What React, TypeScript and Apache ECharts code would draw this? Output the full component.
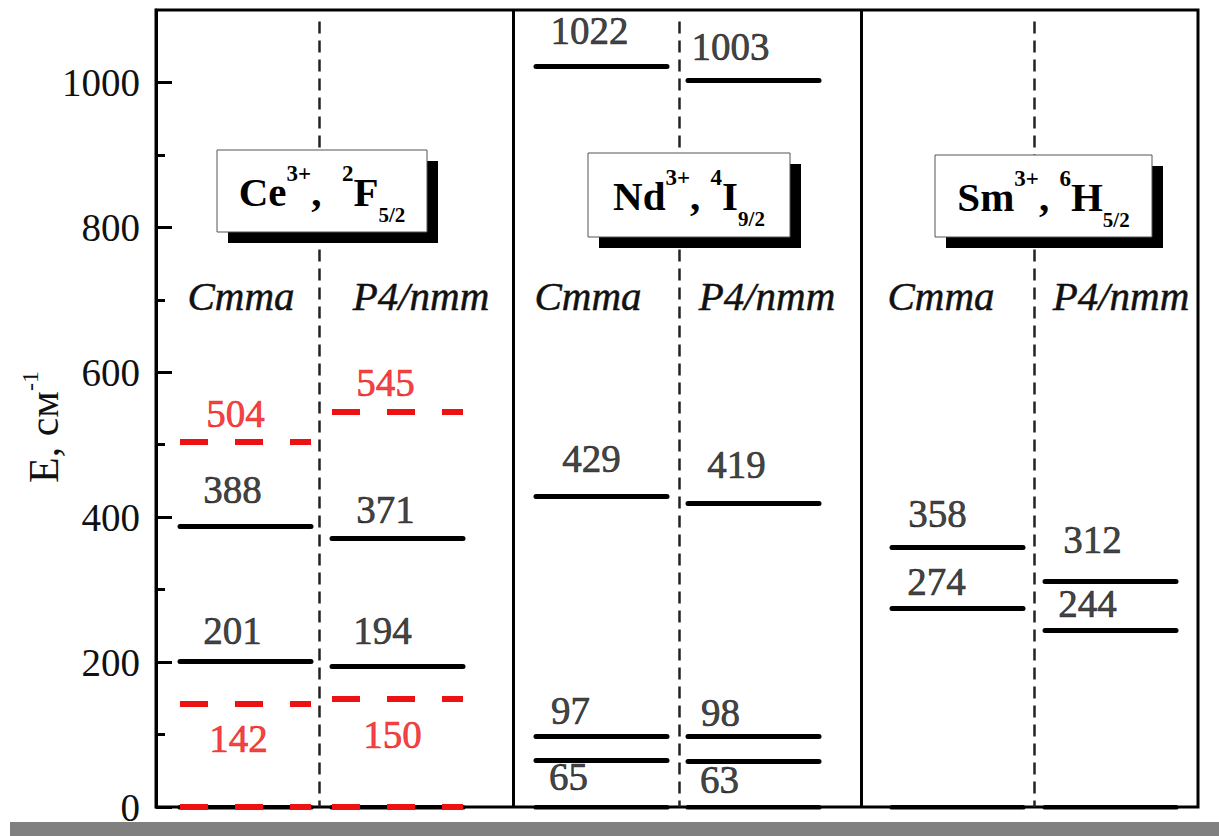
import React, { useEffect, useRef } from 'react';
import * as echarts from 'echarts';

const SERIF = 'Liberation Serif, Times New Roman, serif';

// Crystal-field splitting of the ground multiplets, cm^-1
const ceCmma = [0, 201, 388];
const ceCmmaRed = [0, 142, 504];
const ceP4 = [0, 194, 371];
const ceP4Red = [0, 150, 545];
const ndCmma = [0, 65, 97, 429, 1022];
const ndP4 = [0, 63, 98, 419, 1003];
const smCmma = [0, 274, 358];
const smP4 = [0, 244, 312];

const yTicks = [0, 200, 400, 600, 800, 1000];
const yMinorTicks = [100, 300, 500, 700, 900];
const groupNames = ['Cmma', 'P4/nmm'];

// Horizontal layout, in x-axis units (pixels from the energy axis)
const X_MAX = 1042;
const COL_START = [24, 176, 380, 532, 736, 889];
const COL_LEN = 131;
const PANEL_DIVIDERS = [357, 705];
const GROUP_DIVIDERS = [163, 523, 878];

// Label placement for each level: [x centre, vertical pixel shift]
type Place = [number, number] | null;
const ceCmmaPlace: Place[] = [null, [77, -30], [77, -36]];
const ceCmmaRedPlace: Place[] = [null, [83, 35], [80, -28]];
const ceP4Place: Place[] = [null, [227, -35], [230, -28]];
const ceP4RedPlace: Place[] = [null, [237, 37], [230, -29]];
const ndCmmaPlace: Place[] = [null, [413, 17], [415, -26], [436, -37], [434, -36]];
const ndP4Place: Place[] = [null, [564, 19], [565, -23], [581, -38], [575, -33]];
const smCmmaPlace: Place[] = [null, [781, -26], [782, -34]];
const smP4Place: Place[] = [null, [932, -26], [937, -41]];

const blackSets = [
  { levels: ceCmma, col: 0, place: ceCmmaPlace },
  { levels: ceP4, col: 1, place: ceP4Place },
  { levels: ndCmma, col: 2, place: ndCmmaPlace },
  { levels: ndP4, col: 3, place: ndP4Place },
  { levels: smCmma, col: 4, place: smCmmaPlace },
  { levels: smP4, col: 5, place: smP4Place },
];
const redSets = [
  { levels: ceCmmaRed, col: 0, place: ceCmmaRedPlace },
  { levels: ceP4Red, col: 1, place: ceP4RedPlace },
];

const RED = '#ee1111';
const INK = '#111';

function segs(sets: typeof blackSets) {
  const out: any[] = [];
  sets.forEach((s) =>
    s.levels.forEach((v) => {
      const x0 = COL_START[s.col];
      out.push({ coords: [[x0, v], [x0 + COL_LEN, v]] });
    })
  );
  return out;
}

function labels(sets: typeof blackSets) {
  const out: any[] = [];
  sets.forEach((s) =>
    s.levels.forEach((v, i) => {
      const p = s.place[i];
      if (!p) return;
      out.push({ value: [p[0], v], label: { offset: [0, p[1]] } });
    })
  );
  return out;
}

const boxRich = {
  m: { fontFamily: SERIF, fontWeight: 'bold', fontSize: 41, fill: '#000' },
  p: { fontFamily: SERIF, fontWeight: 'bold', fontSize: 23, fill: '#000', padding: [0, 0, 38, 0] },
  b: { fontFamily: SERIF, fontWeight: 'bold', fontSize: 21, fill: '#000', padding: [46, 0, 0, 0] },
};

function ionBox(x: number, y: number, w: number, h: number, text: string) {
  return [
    { type: 'rect', z: 100, shape: { x: x + 11, y: y + 11, width: w, height: h }, style: { fill: '#000' } },
    { type: 'rect', z: 101, shape: { x, y, width: w, height: h }, style: { fill: '#fff', stroke: '#555', lineWidth: 1 } },
    {
      type: 'text', z: 102, x: x + w / 2, y: y + h / 2 + 1,
      style: { text, rich: boxRich, align: 'center', verticalAlign: 'middle' },
    },
  ];
}

const groupLabelX = [241, 421, 588, 767, 941, 1121];

export default function App() {
  const ref = useRef<HTMLDivElement>(null);
  useEffect(() => {
    if (!ref.current) return;
    const chart = echarts.init(ref.current, null, { renderer: 'svg' });
    const numLabel = (color: string) => ({
      show: true,
      position: [0, 0],
      align: 'center',
      verticalAlign: 'middle',
      color,
      fontFamily: SERIF,
      fontSize: 39,
      textBorderColor: color,
      textBorderWidth: 0.7,
      formatter: (p: any) => String(p.value[1]),
    });
    const option: any = {
      animation: false,
      textStyle: { fontFamily: SERIF },
      grid: { left: 156, right: 21, top: 10, bottom: 29, show: true, borderColor: '#000', borderWidth: 3 },
      xAxis: { type: 'value', min: 0, max: X_MAX, show: false },
      yAxis: [
        {
          type: 'value', min: 0, max: 1100, position: 'left',
          axisLine: { show: true, lineStyle: { color: '#000', width: 3 } },
          axisTick: { show: true, inside: true, length: 16, lineStyle: { color: '#000', width: 3 }, customValues: yTicks },
          axisLabel: {
            customValues: yTicks, fontFamily: SERIF, fontSize: 39, color: '#111', margin: 16,
            formatter: (v: number) => String(v),
          },
          splitLine: { show: false },
        },
        {
          type: 'value', min: 0, max: 1100, position: 'left',
          axisLine: { show: false },
          axisTick: { show: true, inside: true, length: 9, lineStyle: { color: '#000', width: 3 }, customValues: yMinorTicks },
          axisLabel: { show: false },
          splitLine: { show: false },
        },
      ],
      series: [
        {
          type: 'lines', coordinateSystem: 'cartesian2d', z: 2,
          data: PANEL_DIVIDERS.map((x) => ({ coords: [[x, 0], [x, 1100]] })),
          lineStyle: { color: '#000', width: 3, opacity: 1 },
        },
        {
          type: 'lines', coordinateSystem: 'cartesian2d', z: 2,
          data: GROUP_DIVIDERS.map((x) => ({ coords: [[x, 1084], [x, 0]] })),
          lineStyle: { color: '#222', width: 2.5, type: [12, 7], opacity: 1 },
        },
        {
          type: 'lines', coordinateSystem: 'cartesian2d', z: 3,
          data: segs(blackSets),
          lineStyle: { color: '#000', width: 5, cap: 'round', opacity: 1 },
        },
        {
          type: 'lines', coordinateSystem: 'cartesian2d', z: 4,
          data: segs(redSets),
          lineStyle: { color: RED, width: 6, type: [28, 27], opacity: 1 },
        },
        {
          type: 'scatter', z: 5, symbolSize: 1, itemStyle: { color: 'rgba(0,0,0,0)' },
          data: labels(blackSets), label: numLabel(INK),
        },
        {
          type: 'scatter', z: 5, symbolSize: 1, itemStyle: { color: 'rgba(0,0,0,0)' },
          data: labels(redSets), label: numLabel(RED),
        },
      ],
      graphic: [
        { type: 'rect', shape: { x: 10, y: 822, width: 1209, height: 14 }, style: { fill: '#808080' } },
        {
          type: 'text', x: 44, y: 427, rotation: Math.PI / 2,
          style: {
            text: '{m|E, см}{p|-1}', align: 'center', verticalAlign: 'middle',
            rich: {
              m: { fontFamily: SERIF, fontSize: 42, fill: '#111' },
              p: { fontFamily: SERIF, fontSize: 24, fill: '#111', padding: [0, 0, 28, 0] },
            },
          },
        },
        ...groupLabelX.map((x, i) => ({
          type: 'text', x, y: 296,
          style: {
            text: groupNames[i % 2], align: 'center', verticalAlign: 'middle',
            fontFamily: SERIF, fontStyle: 'italic', fontSize: 41, fill: '#111',
            stroke: '#111', lineWidth: 0.5,
          },
        })),
        ...ionBox(217, 150, 210, 82, '{m|Ce}{p|3+}{m|,  }{p|2}{m|F}{b|5/2}'),
        ...ionBox(588, 153, 202, 84, '{m|Nd}{p|3+}{m|, }{p|4}{m|I}{b|9/2}'),
        ...ionBox(935, 155, 217, 82, '{m|Sm}{p|3+}{m|, }{p|6}{m|H}{b|5/2}'),
      ],
    };
    chart.setOption(option);
    return () => chart.dispose();
  }, []);
  return <div ref={ref} style={{ position: 'absolute', left: 0, top: 0, width: 1219, height: 836 }} />;
}
